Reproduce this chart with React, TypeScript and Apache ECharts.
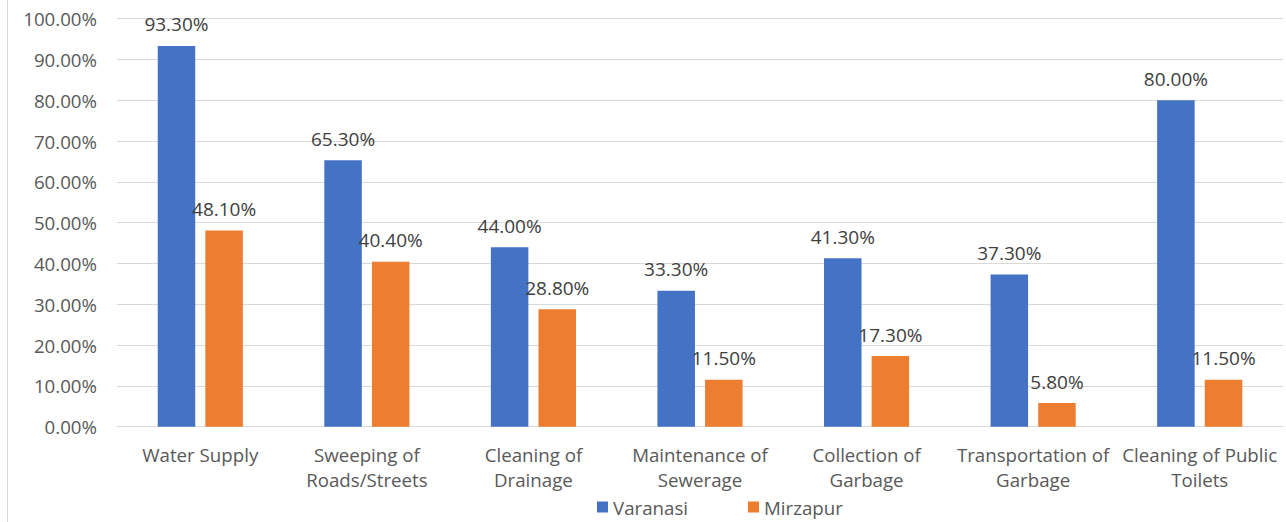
import React, { useEffect, useRef } from "react";
import * as echarts from "echarts";

const categories = [
  "Water Supply",
  "Sweeping of\nRoads/Streets",
  "Cleaning of\nDrainage",
  "Maintenance of\nSewerage",
  "Collection of\nGarbage",
  "Transportation of\nGarbage",
  "Cleaning of Public\nToilets",
];
const varanasi = [93.3, 65.3, 44.0, 33.3, 41.3, 37.3, 80.0];
const mirzapur = [48.1, 40.4, 28.8, 11.5, 17.3, 5.8, 11.5];
const seriesNames = ["Varanasi", "Mirzapur"];
const colors = ["#4472C4", "#ED7D31"];

const FONT = "'Open Sans', 'Liberation Sans', sans-serif";
const pct = (v: number) => `${v.toFixed(2)}%`;

export default function App() {
  const ref = useRef<HTMLDivElement>(null);

  useEffect(() => {
    if (!ref.current) return;
    const chart = echarts.init(ref.current, null, { renderer: "svg" });
    const barSeries = [varanasi, mirzapur].map((data, i) => ({
      name: seriesNames[i],
      type: "bar" as const,
      data,
      barWidth: 37.5,
      barGap: "27%",
      itemStyle: { color: colors[i] },
      label: {
        show: true,
        position: "top" as const,
        distance: 12,
        color: "#404040",
        fontFamily: FONT,
        fontSize: 19,
        formatter: (p: any) => pct(p.value),
      },
    }));
    chart.setOption({
      animation: false,
      backgroundColor: "#ffffff",
      textStyle: { fontFamily: FONT },
      grid: { left: 117, right: 3, top: 18.6, bottom: 95.3, containLabel: false },
      legend: {
        data: seriesNames,
        top: 493,
        left: 594,
        padding: 3,
        icon: "rect",
        itemWidth: 11,
        itemHeight: 11,
        itemGap: 60,
        textStyle: { color: "#595959", fontSize: 18.7, fontFamily: FONT, lineHeight: 22 },
      },
      xAxis: {
        type: "category",
        data: categories,
        axisLine: { show: true, lineStyle: { color: "#d9d9d9" } },
        axisTick: { show: false },
        axisLabel: {
          color: "#595959",
          fontSize: 18.7,
          fontFamily: FONT,
          lineHeight: 25,
          margin: 15,
          interval: 0,
        },
      },
      yAxis: {
        type: "value",
        min: 0,
        max: 100,
        interval: 10,
        axisLine: { show: false },
        axisTick: { show: false },
        splitLine: { lineStyle: { color: "#d9d9d9", width: 1 } },
        axisLabel: {
          color: "#595959",
          fontSize: 18.7,
          fontFamily: FONT,
          margin: 20,
          formatter: (v: number) => pct(v),
        },
      },
      graphic: [
        {
          type: "line",
          shape: { x1: 7.5, y1: 0, x2: 7.5, y2: 522 },
          style: { stroke: "#d9d9d9", lineWidth: 1 },
        },
      ],
      series: barSeries,
    });
    return () => chart.dispose();
  }, []);

  return (
    <div
      ref={ref}
      style={{ position: "fixed", left: 0, top: 0, width: 1286, height: 522 }}
    />
  );
}
